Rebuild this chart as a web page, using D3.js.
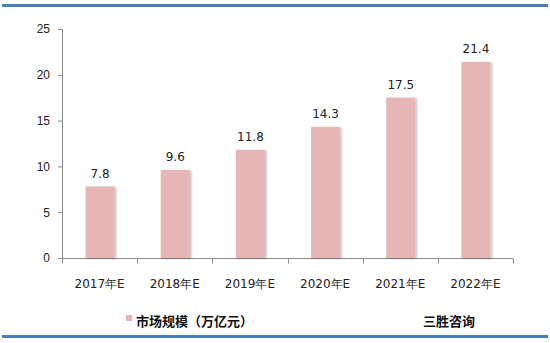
<!DOCTYPE html>
<html><head><meta charset="utf-8">
<script src="https://cdn.jsdelivr.net/npm/d3@7/dist/d3.min.js"></script>
<style>
body{margin:0;background:#fff;}
svg{display:block;font-family:"DejaVu Sans",Verdana,sans-serif;}
</style></head>
<body>
<script>
const categories = ["2017年E","2018年E","2019年E","2020年E","2021年E","2022年E"];
const values = [7.8, 9.6, 11.8, 14.3, 17.5, 21.4];
const yTicks = [0, 5, 10, 15, 20, 25];
const seriesName = "市场规模（万亿元）";
const sourceName = "三胜咨询";

const W = 550, H = 343;
const svg = d3.select("body").append("svg").attr("width", W).attr("height", H);

const defs = svg.append("defs");
const f = defs.append("filter").attr("id","shadow").attr("x","-20%").attr("y","-10%").attr("width","150%").attr("height","120%");
f.append("feDropShadow").attr("dx",1.5).attr("dy",0.5).attr("stdDeviation",0.8).attr("flood-color","#000").attr("flood-opacity",0.28);

// frame rules top and bottom
svg.append("line").attr("x1",2).attr("x2",548).attr("y1",5.5).attr("y2",5.5)
  .attr("stroke","#4a7ebb").attr("stroke-width",3);
svg.append("line").attr("x1",2).attr("x2",548).attr("y1",336.5).attr("y2",336.5)
  .attr("stroke","#4a7ebb").attr("stroke-width",3);

const xb = d3.scaleBand().domain(categories).range([62, 513]);
const y = d3.scaleLinear().domain([0, 25]).range([258, 29]);

// y axis
const ya = svg.append("g").attr("transform","translate(62,0)")
  .call(d3.axisLeft(y).tickValues(yTicks).tickSize(4).tickPadding(8));
ya.select(".domain").attr("stroke","#8c8c8c").attr("d","M-4,29.5H0.5V258.5");
ya.selectAll(".tick line").attr("stroke","#8c8c8c");
ya.selectAll("text").attr("font-size",12).attr("fill","#222");

// x axis with ticks at category boundaries
const xa = svg.append("g").attr("transform","translate(0,258.5)");
xa.append("line").attr("x1",62).attr("x2",513).attr("stroke","#8c8c8c");
xa.selectAll("line.t").data([...categories.map(c=>xb(c)), 513]).enter().append("line")
  .attr("class","t").attr("x1",d=>Math.round(d)+0.5).attr("x2",d=>Math.round(d)+0.5)
  .attr("y1",0).attr("y2",5).attr("stroke","#8c8c8c");
xa.selectAll("text").data(categories).enter().append("text")
  .attr("x",d=>xb(d)+xb.bandwidth()/2).attr("y",29).attr("text-anchor","middle")
  .attr("font-size",12).attr("fill","#222").text(d=>d);

// bars
const bw = 29;
svg.append("g").selectAll("rect").data(values).enter().append("rect")
  .attr("x",(d,i)=>xb(categories[i])+xb.bandwidth()/2 - bw/2 + 0.5)
  .attr("width",bw)
  .attr("y",d=>y(d)).attr("height",d=>258-y(d))
  .attr("fill","#e6b5b6").attr("filter","url(#shadow)");

// value labels
svg.append("g").selectAll("text").data(values).enter().append("text")
  .attr("x",(d,i)=>xb(categories[i])+xb.bandwidth()/2+0.5)
  .attr("y",d=>y(d)-9).attr("text-anchor","middle")
  .attr("font-size",12).attr("fill","#222").text(d=>d.toFixed(1));

// legend
svg.append("rect").attr("x",126).attr("y",315).attr("width",6).attr("height",6).attr("fill","#e6b5b6");
svg.append("text").attr("x",136).attr("y",326).attr("font-size",13).attr("font-weight","bold")
  .attr("font-family","'Noto Sans CJK SC',sans-serif").attr("fill","#111").text(seriesName);
svg.append("text").attr("x",423).attr("y",326).attr("font-size",13).attr("font-weight","bold")
  .attr("font-family","'Noto Sans CJK SC',sans-serif").attr("fill","#111").text(sourceName);
</script>
</body></html>
